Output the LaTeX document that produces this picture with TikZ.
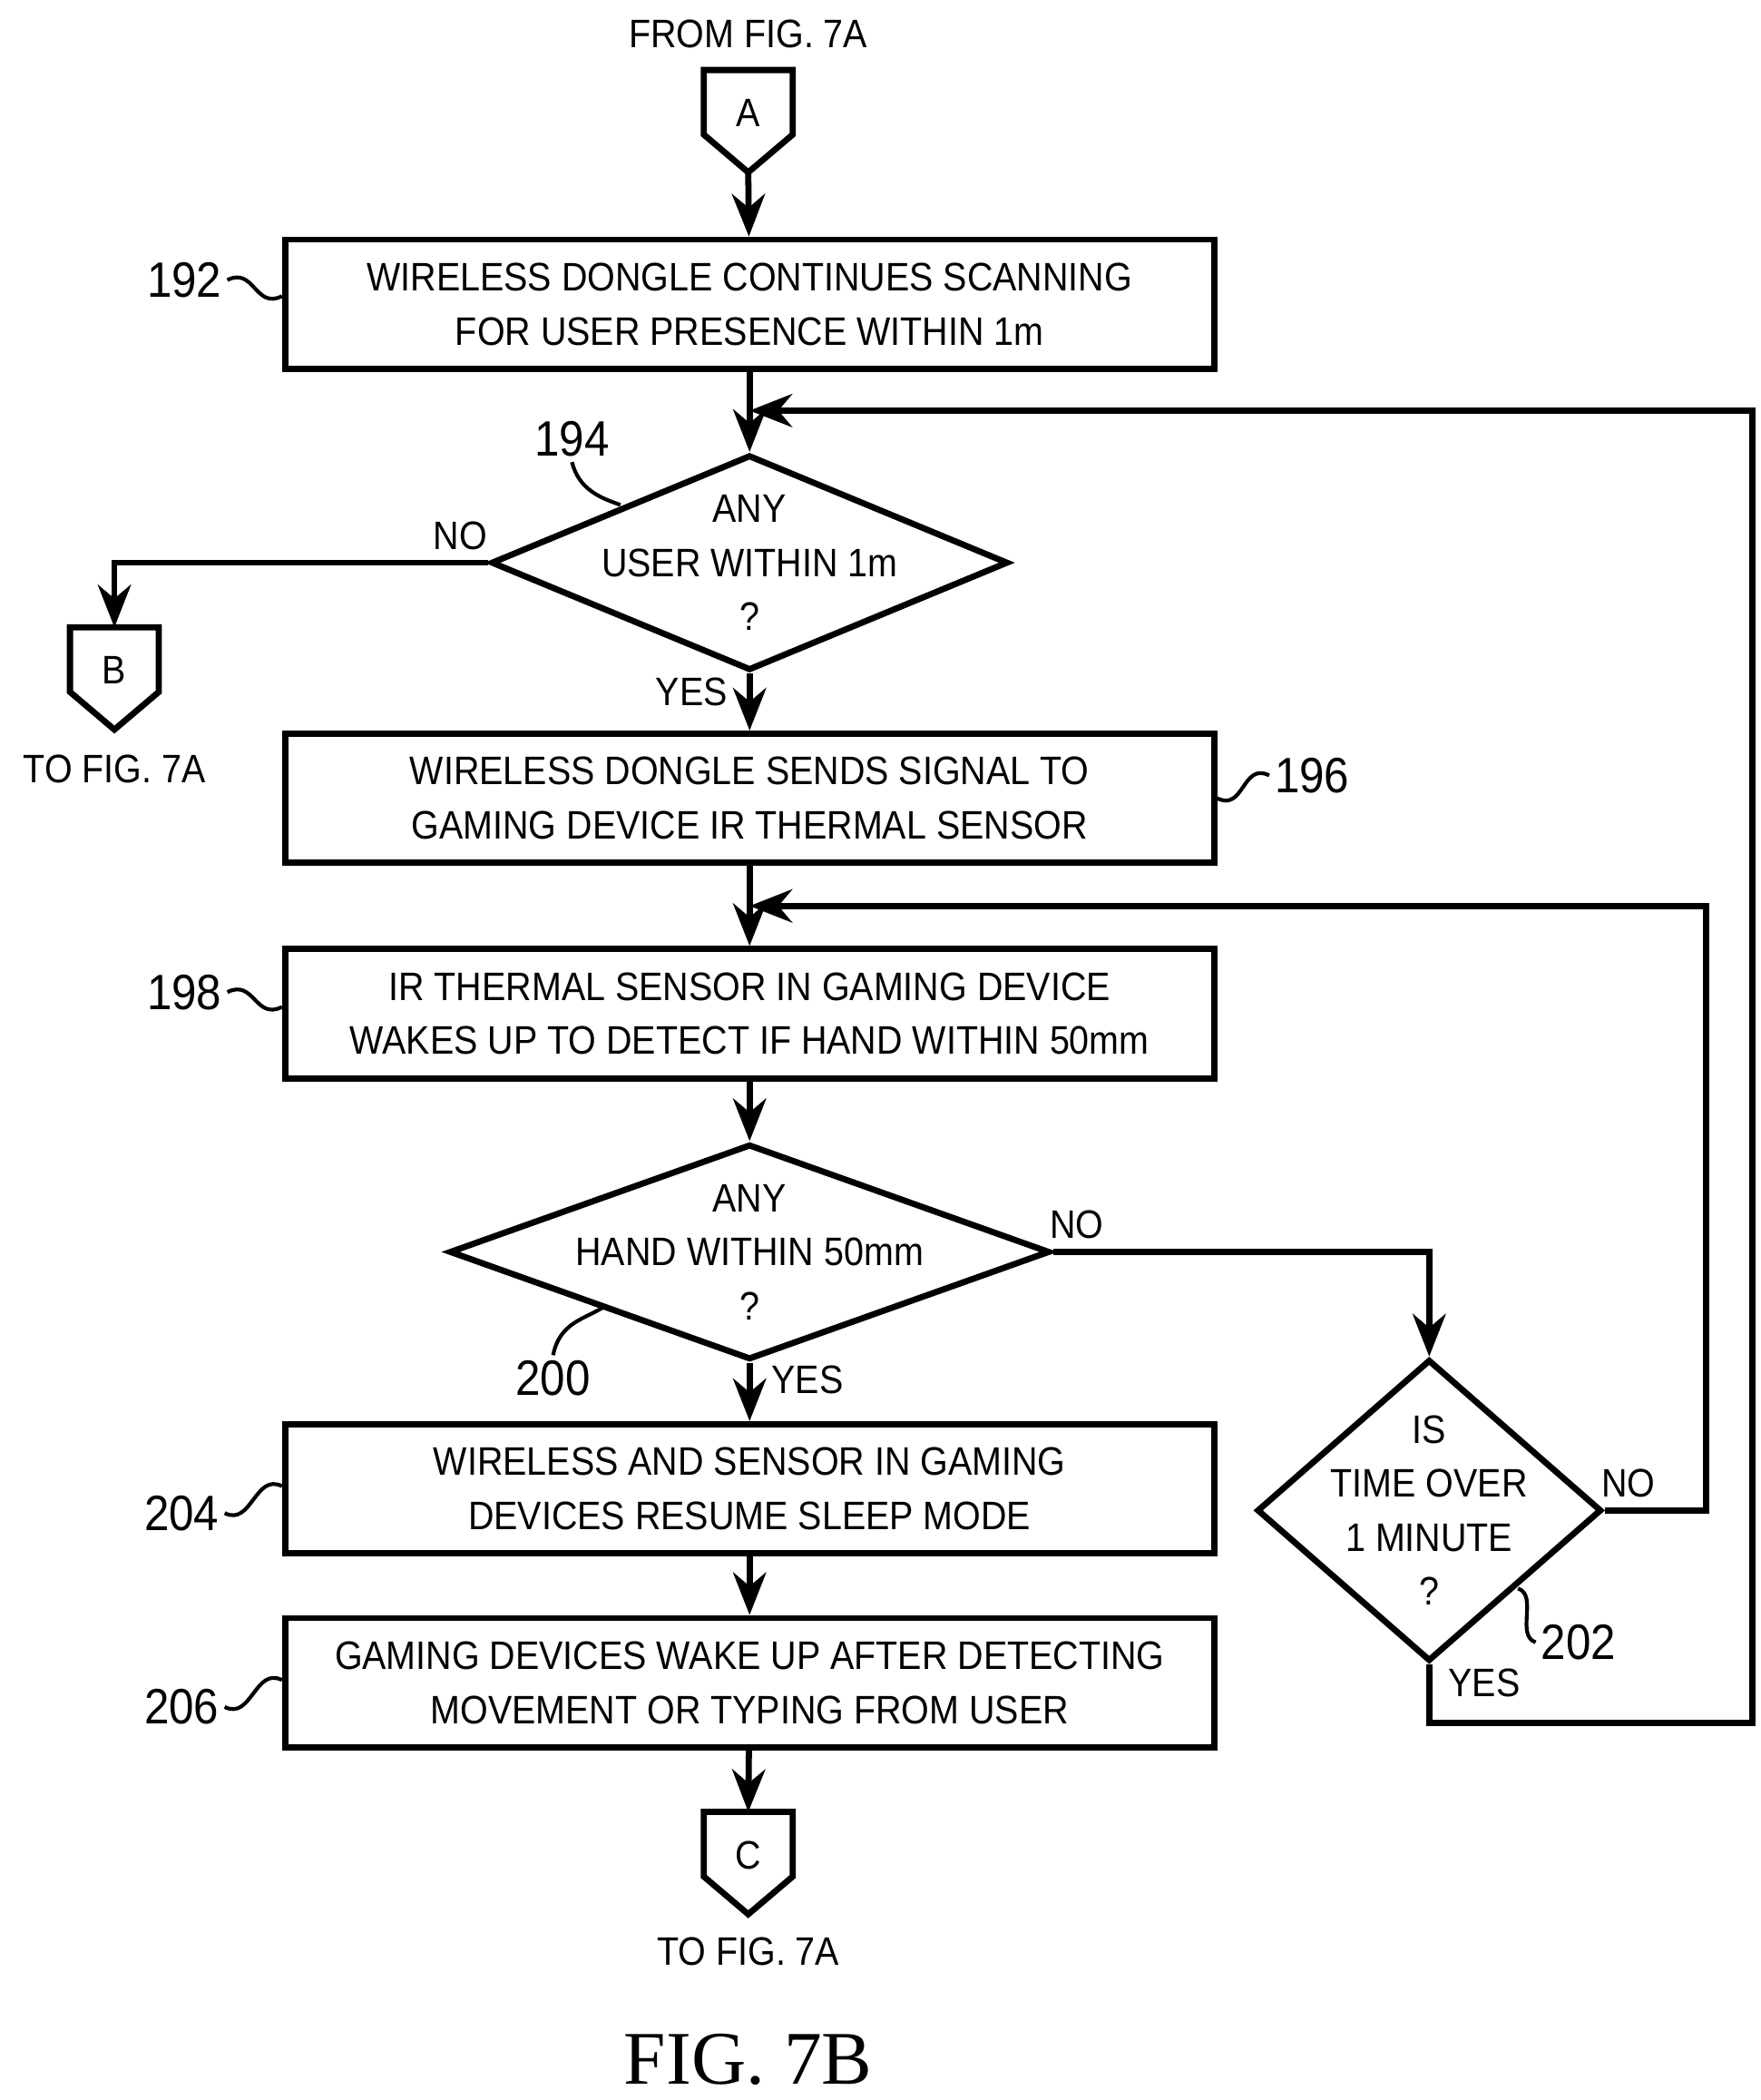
\documentclass[tikz,border=0pt]{standalone}
\usepackage{fontspec}
\setmainfont{Liberation Sans}[FakeStretch=0.9]
\newfontfamily\figfont{Liberation Serif}
\usetikzlibrary{shapes.geometric,arrows.meta,positioning,calc}
\newcommand{\offpage}[4]{%
  \draw[line width=1.3pt] ($(#2,#3)+(-33,0)$) -- ++(66,0) -- ++(0,48) -- ++(-33,28) -- ++(-33,-28) -- cycle;
  \node[txt] (#1) at ($(#2,#3)+(0,32)$) {#4};
  \coordinate (#1 top) at (#2,#3);
  \coordinate (#1 bot) at ($(#2,#3)+(0,76)$);
}
\begin{document}
\begin{tikzpicture}[x=0.01cm,y=-0.01cm,
    txt/.style={font=\fontsize{8.4}{11.4}\selectfont, align=center, inner sep=1pt},
    block/.style={rectangle, draw, line width=1.3pt, minimum width=6.9cm, minimum height=0.96cm, txt},
    decision/.style={diamond, draw, line width=1.3pt, inner sep=0pt},
    arrow/.style={-{Stealth[length=9pt,width=7pt]}, line width=1.3pt},
    line/.style={line width=1.3pt},
    lead/.style={line width=0.8pt},
    num/.style={font=\fontsize{10.5}{12}\selectfont, inner sep=1pt}
]
    \useasboundingbox (0,0) rectangle (1308,1560);
    % Connectors
    \node[txt] (from) at (556,25) {FROM FIG. 7A};
    \offpage{ca}{556}{52}{A}
    \offpage{cb}{85}{466}{B}
    \offpage{cc}{556}{1346}{C}
    \node[txt] (tob) at (85,571) {TO FIG. 7A};
    \node[txt] (toc) at (556,1450) {TO FIG. 7A};

    % Blocks
    \node[block] (scan) at (557,226) {WIRELESS DONGLE CONTINUES SCANNING\\FOR USER PRESENCE WITHIN 1m};
    \node[block] (send) at (557,593) {WIRELESS DONGLE SENDS SIGNAL TO\\GAMING DEVICE IR THERMAL SENSOR};
    \node[block] (wake) at (557,753) {IR THERMAL SENSOR IN GAMING DEVICE\\WAKES UP TO DETECT IF HAND WITHIN 50mm};
    \node[block] (sleep) at (557,1106) {WIRELESS AND SENSOR IN GAMING\\DEVICES RESUME SLEEP MODE};
    \node[block] (resume) at (557,1250) {GAMING DEVICES WAKE UP AFTER DETECTING\\MOVEMENT OR TYPING FROM USER};

    % Decisions
    \node[decision, minimum width=3.84cm, minimum height=1.6cm] (user) at (557,418) {};
    \node[txt] at (user) {ANY\\USER WITHIN 1m\\?};
    \node[decision, minimum width=4.46cm, minimum height=1.6cm] (hand) at (557,930) {};
    \node[txt] at (hand) {ANY\\HAND WITHIN 50mm\\?};
    \node[decision, minimum width=2.56cm, minimum height=2.24cm] (time) at (1062,1122) {};
    \node[txt] at (time) {IS\\TIME OVER\\1 MINUTE\\?};

    % Reference numbers
    \node[num] (n192) at (137,208) {192};
    \node[num] (n194) at (425,326) {194};
    \node[num] (n196) at (975,576) {196};
    \node[num] (n198) at (137,737) {198};
    \node[num] (n200) at (411,1024) {200};
    \node[num] (n202) at (1173,1220) {202};
    \node[num] (n204) at (135,1124) {204};
    \node[num] (n206) at (135,1268) {206};
    \draw[lead] (n192.east) .. controls +(20,-10) and +(-20,10) .. (scan.west |- 0,220);
    \draw[lead] (n198.east) .. controls +(20,-10) and +(-20,10) .. (wake.west |- 0,748);
    \draw[lead] (n204.east) .. controls +(20,10) and +(-20,-10) .. (sleep.west |- 0,1104);
    \draw[lead] (n206.east) .. controls +(20,10) and +(-20,-10) .. (resume.west |- 0,1248);
    \draw[lead] (n196.west) .. controls +(-20,-10) and +(20,10) .. (send.east |- 0,593);
    \draw[lead] (n194.south) .. controls +(5,20) and +(-15,-5) .. (461,375);
    \draw[lead] (n200.north) .. controls +(5,-25) and +(-15,10) .. (450,970);
    \draw[lead] (n202.west) .. controls +(-15,-5) and +(15,5) .. (1128,1180);

    % Arrows
    \draw[arrow] (ca bot) -- (scan);
    \draw[arrow] (scan) -- (user);
    \draw[arrow] (user.west) -| (cb top);
    \node[txt] at (342,398) {NO};
    \draw[arrow] (user) -- (send);
    \node[txt] at (514,514) {YES};
    \draw[arrow] (send) -- (wake);
    \draw[arrow] (wake) -- (hand);
    \draw[arrow] (hand) -- (sleep);
    \node[txt] at (600,1025) {YES};
    \draw[arrow] (hand.east) -| (time.north);
    \node[txt] at (800,910) {NO};
    \draw[arrow] (time.east) -- (1268,1122) -- (1268,673) -- (557,673);
    \node[txt] at (1210,1102) {NO};
    \draw[arrow] (time.south) -- (1062,1280) -- (1302,1280) -- (1302,305) -- (557,305);
    \node[txt] at (1103,1250) {YES};
    \draw[arrow] (sleep) -- (resume);
    \draw[arrow] (resume) -- (cc top);

    \node[font=\figfont\fontsize{16}{18}\selectfont] (fig) at (556,1530) {FIG. 7B};
\end{tikzpicture}
\end{document}
